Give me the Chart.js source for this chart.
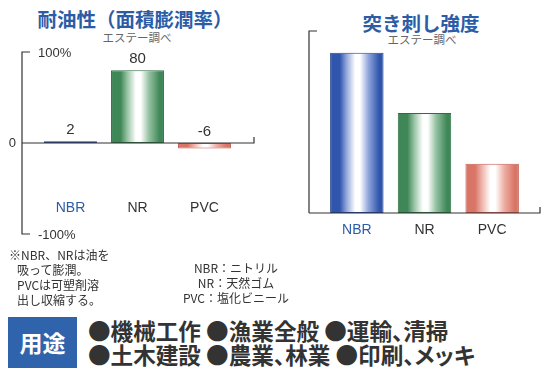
<!DOCTYPE html>
<html>
<head>
<meta charset="utf-8">
<script src="https://cdn.jsdelivr.net/npm/chart.js@4"></script>
<style>
  body { margin: 0; width: 560px; height: 372px; background: #fff; position: relative; overflow: hidden;
         font-family: "Noto Sans CJK JP", "Noto Sans", sans-serif; color: #333; }
  .abs { position: absolute; white-space: nowrap; }
  .title { color: #2c5ca6; font-weight: bold; font-size: 19.5px; transform: translateX(-50%); }
  .sub { color: #666; font-size: 11.5px; transform: translateX(-50%); }
  .note { font-size: 12px; line-height: 15px; color: #333; }
  .legend { font-size: 12px; line-height: 15px; color: #333; text-align: center; transform: translateX(-50%); }
  #box { left: 8px; top: 317px; width: 69px; height: 51px; background: #2f64ad; color: #fff;
         font-size: 23px; font-weight: bold; line-height: 51px; text-align: center; }
  .use { font-size: 22.6px; font-weight: bold; color: #333; line-height: 24px; font-feature-settings: "palt"; }
  canvas { position: absolute; }
</style>
</head>
<body>
<div class="abs title" style="left:135px; top:4px;">耐油性（面積膨潤率）</div>
<div class="abs sub" style="left:137px; top:29px;">エステー調べ</div>
<div class="abs title" style="left:421px; top:8px;">突き刺し強度</div>
<div class="abs sub" style="left:422px; top:31px;">エステー調べ</div>

<div style="position:absolute; left:0; top:0; width:280px; height:250px;"><canvas id="oilChart"></canvas></div>
<div style="position:absolute; left:280px; top:0; width:280px; height:250px;"><canvas id="punctureChart"></canvas></div>

<div class="abs note" style="left:9px; top:247px;">※NBR、NRは油を<br>&nbsp;&nbsp;&nbsp;吸って膨潤。<br>&nbsp;&nbsp;&nbsp;PVCは可塑剤溶<br>&nbsp;&nbsp;&nbsp;出し収縮する。</div>
<div class="abs legend" style="left:236px; top:260px;">NBR：ニトリル<br>NR：天然ゴム<br>PVC：塩化ビニール</div>

<div class="abs" id="box">用途</div>
<div class="abs use" style="left:88px; top:319px;">●機械工作 ●漁業全般 ●運輸、清掃</div>
<div class="abs use" style="left:88px; top:343px;">●土木建設 ●農業、林業 ●印刷、メッキ</div>

<script>
// data
var materials = ["NBR", "NR", "PVC"];
var oilSwelling = [2, 80, -6];          // 面積膨潤率 (%)
var punctureStrength = [88, 55, 27];    // 突き刺し強度 (relative, no scale given)
var oilTickLabels = ["100%", "0", "-100%"];
var oilTickValues = [100, 0, -100];

var labelColors = ["#2c5ca6", "#333", "#333"];
var barTones = [
  { edge: "#2f55ad", mid: "#8ea3da", line: "#22438f" },
  { edge: "#3f8757", mid: "#93c0a0", line: "#2f6d44" },
  { edge: "#d87566", mid: "#eeb0a6", line: "#c55e50" }
];

function stripe(ctx) {
  var chart = ctx.chart;
  var xs = chart.scales.x;
  var tone = barTones[ctx.dataIndex];
  if (!xs || !chart.chartArea) return tone.edge;
  var cw = xs.width / materials.length;
  var w = cw * 0.79;
  var cx = xs.getPixelForValue(ctx.dataIndex);
  var g = chart.ctx.createLinearGradient(cx - w / 2, 0, cx + w / 2, 0);
  g.addColorStop(0, tone.edge);
  g.addColorStop(0.18, tone.edge);
  g.addColorStop(0.3, tone.mid);
  g.addColorStop(0.47, "#ffffff");
  g.addColorStop(0.56, "#ffffff");
  g.addColorStop(0.72, tone.mid);
  g.addColorStop(0.92, tone.edge);
  g.addColorStop(1, tone.edge);
  return g;
}

// axes, tick labels, category labels, value labels
var frame = {
  id: "frame",
  afterDatasetsDraw: function (chart, args, opts) {
    var c = chart.ctx, xs = chart.scales.x, ys = chart.scales.y;
    c.save();
    c.strokeStyle = "#333";
    c.lineWidth = 1.2;
    var top = ys.getPixelForValue(ys.max), bot = ys.getPixelForValue(ys.min);
    var base = ys.getPixelForValue(0);
    c.beginPath();
    c.moveTo(opts.axisX + 8, top); c.lineTo(opts.axisX, top);
    c.lineTo(opts.axisX, bot);
    if (ys.min < 0) c.lineTo(opts.axisX + 8, bot);
    c.stroke();
    c.beginPath();
    c.moveTo(opts.axisX, base); c.lineTo(opts.endX, base); c.lineTo(opts.endX, base - 6);
    c.stroke();

    c.fillStyle = "#333";
    c.font = "13px 'Liberation Sans', Arial, sans-serif";
    c.textBaseline = "middle";
    if (opts.ticks) {
      opts.ticks.forEach(function (v, i) {
        var y = ys.getPixelForValue(v);
        if (v === 0) { c.textAlign = "right"; c.fillText(oilTickLabels[i], opts.axisX - 6, y); }
        else { c.textAlign = "left"; c.fillText(oilTickLabels[i], opts.axisX + 16, y + 1); }
      });
    }
    c.font = "14px 'Liberation Sans', Arial, sans-serif";
    c.textAlign = "center";
    materials.forEach(function (m, i) {
      c.fillStyle = labelColors[i];
      c.fillText(m, xs.getPixelForValue(i), opts.catY);
    });
    if (opts.values) {
      c.fillStyle = "#333";
      c.font = "15px 'Liberation Sans', Arial, sans-serif";
      var meta = chart.getDatasetMeta(0);
      meta.data.forEach(function (bar, i) {
        var y = Math.min(bar.y, bar.base) - 11;
        c.fillText(String(oilSwelling[i]), bar.x, y);
      });
    }
    c.restore();
  }
};

function makeChart(id, values, yMin, yMax, pad, opts) {
  return new Chart(document.getElementById(id), {
    type: "bar",
    data: {
      labels: materials,
      datasets: [{
        data: values,
        backgroundColor: stripe,
        borderColor: barTones.map(function (t) { return t.line; }),
        borderWidth: 1,
        borderSkipped: false,
        categoryPercentage: 1,
        barPercentage: 0.79
      }]
    },
    options: {
      responsive: true,
      maintainAspectRatio: false,
      animation: false,
      layout: { padding: pad },
      scales: {
        x: { display: false },
        y: { display: false, min: yMin, max: yMax }
      },
      plugins: { legend: { display: false }, tooltip: { enabled: false }, frame: opts }
    },
    plugins: [frame]
  });
}

makeChart("oilChart", oilSwelling, -100, 100,
  { top: 52, bottom: 16, left: 37, right: 42 },
  { axisX: 22, endX: 254, catY: 208, ticks: oilTickValues, values: true });

makeChart("punctureChart", punctureStrength, 0, 100,
  { top: 31, bottom: 37, left: 43, right: 34 },
  { axisX: 29, endX: 260, catY: 230, ticks: null, values: false });
</script>
</body>
</html>
